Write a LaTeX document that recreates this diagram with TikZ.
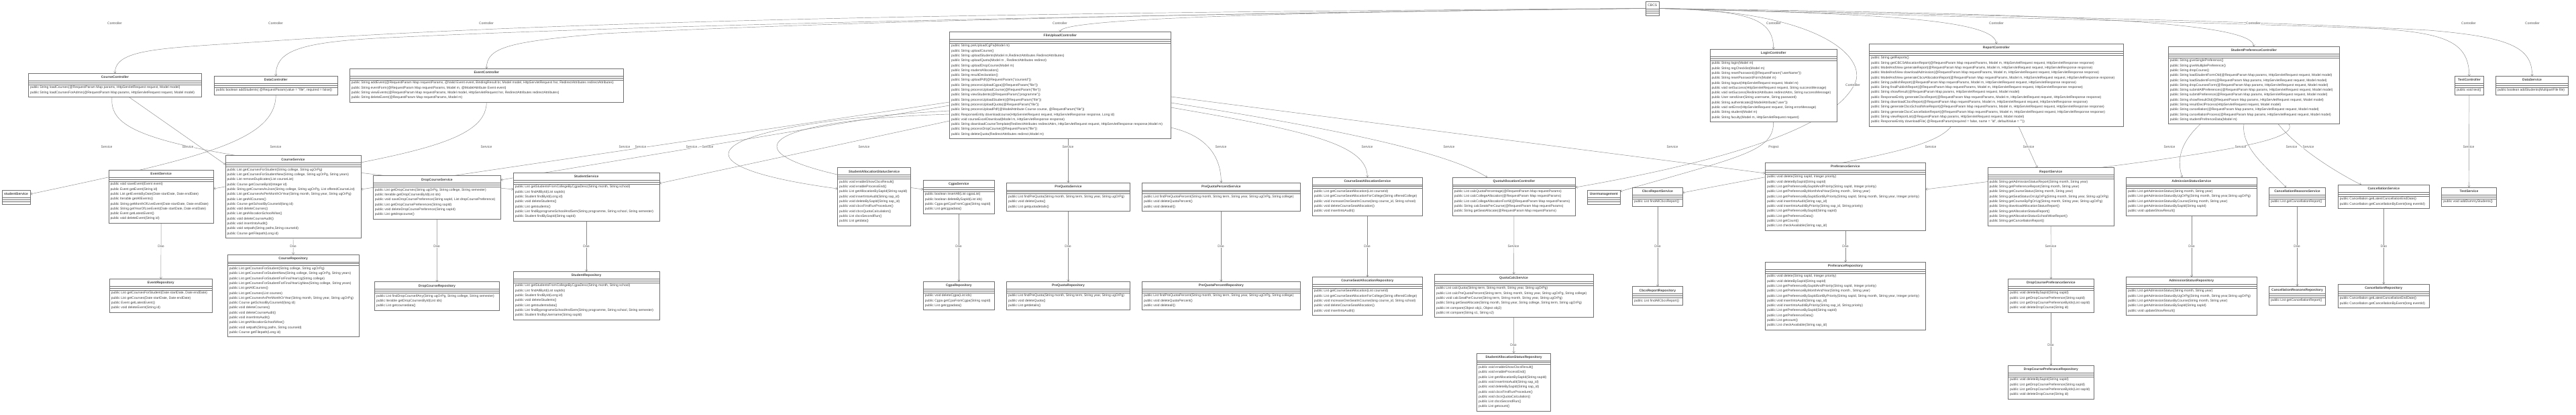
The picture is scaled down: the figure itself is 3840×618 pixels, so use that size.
\documentclass[tikz,border=0pt]{standalone}
\usepackage{fontspec}
\setmainfont{Liberation Sans}
\usetikzlibrary{arrows.meta,calc}
\pgfdeclarelayer{bg}
\pgfsetlayers{bg,main}
\definecolor{bline}{HTML}{707070}
\definecolor{tcol}{HTML}{404040}
\definecolor{ccol}{HTML}{8a8a8a}
\definecolor{lcol}{HTML}{555555}
\newcommand\ml[1]{\hbox{\hskip2.6pt\rule[-2.2pt]{0pt}{7.3pt}#1}}
\newcommand\clsinner[4]{\vbox{\hsize=#1pt\offinterlineskip
 \hbox to \hsize{\hfil\rule[-3.2pt]{0pt}{10.7pt}#2#3\hfil}%
 {\color{bline}\hrule height .45pt}\vskip2.2pt
 {\color{bline}\hrule height .45pt}\vskip2.6pt
 {\color{bline}\hrule height .45pt}\vskip0.6pt
 #4\vskip3pt}}
\newcommand\umlcls[6]{\node[clsbox] (#1) at (#2,#3) {\clsinner{#4}{\bfseries}{#5}{#6}};}
\newcommand\umlclsr[6]{\node[clsbox] (#1) at (#2,#3) {\clsinner{#4}{}{#5}{#6}};}
\tikzset{
 clsbox/.style={draw=bline, fill=white, inner sep=0pt, outer sep=0pt, line width=.45pt, anchor=north west, text=tcol, font=\fontsize{5}{7.3}\selectfont},
 conn/.style={draw=ccol, line width=.45pt, -{Straight Barb[length=2.4pt,width=3.8pt]}},
 elabel/.style={font=\fontsize{5}{6}\selectfont, text=lcol, fill=white, inner sep=.5pt}
}
\begin{document}
\begin{tikzpicture}[x=1pt,y=-1pt]
\useasboundingbox (0,0) rectangle (3840,618);
% ---------- top row ----------
\umlclsr{cbcs}{2453.5}{2.3}{19.5}{CBCS}{}
\umlcls{cc}{42.4}{109.3}{258}{CourseController}{%
\ml{public String loadCourses(@RequestParam Map params, HttpServletRequest request, Model model)}
\ml{public String loadCoursesForAdmin(@RequestParam Map params, HttpServletRequest request, Model model)}}
\umlcls{dc}{319.6}{113.3}{183.3}{DataController}{%
\ml{public boolean addStudents( @RequestParam(value = "file", required = false))}}
\umlcls{ec}{521.2}{102.3}{408.2}{EventController}{%
\ml{public String addEvent(@RequestParam Map requestParams, @Valid Event event, BindingResult br, Model model, HttpServletRequest hsr, RedirectAttributes redirectAttributes)}
\ml{public String eventForm(@RequestParam Map requestParams, Model m, @ModelAttribute Event event)}
\ml{public String viewEvents(@RequestParam Map requestParams, Model model, HttpServletRequest hsr, RedirectAttributes redirectAttributes)}
\ml{public String deleteEvent(@RequestParam Map requestParams, Model m)}}
\umlcls{fu}{1415.5}{47.3}{329.8}{FileUploadController}{%
\ml{public String preUploadCgPa(Model m)}
\ml{public String uploadCourse()}
\ml{public String uploadStudents(Model m,RedirectAttributes RedirectAttributes)}
\ml{public String uploadQuota(Model m , RedirectAttributes redirect)}
\ml{public String uploadDropCourse(Model m)}
\ml{public String studentAllocation()}
\ml{public String resultDeclaration()}
\ml{public String uploadPdf(@RequestParam("courseId"))}
\ml{public String processUploadCgpa(@RequestParam("file"))}
\ml{public String processUploadCourse(@RequestParam("file"))}
\ml{public String viewStudents(@RequestParam("programme"))}
\ml{public String processUploadStudent(@RequestParam("file"))}
\ml{public String processUploadQuota(@RequestParam("file"))}
\ml{public String processUploadPdf(@ModelAttribute Course course, @RequestParam("file"))}
\ml{public ResponseEntity downloadcourse(HttpServletRequest request, HttpServletResponse response, Long id)}
\ml{public void courseExcelDownload(Model m, HttpServletResponse response)}
\ml{public String downloadCourseTemplate(RedirectAttributes redirectAttrs, HttpServletRequest request, HttpServletResponse response,Model m)}
\ml{public String processDropCourse(@RequestParam("file"))}
\ml{public String deleteQuota(RedirectAttributes redirect,Model m)}}
\umlcls{lc}{2549}{73.3}{189.4}{LoginController}{%
\ml{public String login(Model m)}
\ml{public String regChecklist(Model m)}
\ml{public String resetPassword(@RequestParam("userName"))}
\ml{public String resetPasswordForm(Model m)}
\ml{public String logout(HttpServletRequest request, Model m)}
\ml{public void setSuccess(HttpServletRequest request, String successMessage)}
\ml{public void setSuccess(RedirectAttributes redirectAttrs, String successMessage)}
\ml{public User sendUser(String username, String password)}
\ml{public String authenticate(@ModelAttribute("user"))}
\ml{public void setError(HttpServletRequest request, String errorMessage)}
\ml{public String student(Model m)}
\ml{public String faculty(Model m, HttpServletRequest request)}}
\umlcls{rc}{2786.5}{65.3}{378.8}{ReportController}{%
\ml{public String getReports()}
\ml{public String getCBCSAllocationReport(@RequestParam Map requestParams, Model m, HttpServletRequest request, HttpServletResponse response)}
\ml{public ModelAndView generateReport(@RequestParam Map requestParams, Model m, HttpServletRequest request, HttpServletResponse response)}
\ml{public ModelAndView downloadAdmission(@RequestParam Map requestParams, Model m, HttpServletRequest request, HttpServletResponse response)}
\ml{public ModelAndView generateCbcsAllocationReport(@RequestParam Map requestParams, Model m, HttpServletRequest request, HttpServletResponse response)}
\ml{public String publishReport(@RequestParam Map requestParams, Model m, HttpServletRequest request, HttpServletResponse response)}
\ml{public String finalPublishReport(@RequestParam Map requestParams, Model m, HttpServletRequest request, HttpServletResponse response)}
\ml{public String showResult(@RequestParam Map params, HttpServletRequest request, Model model)}
\ml{public ResponseEntity generateCbcsReport(@RequestParam Map requestParams, Model m, HttpServletRequest request, HttpServletResponse response)}
\ml{public String downloadCbcsReport(@RequestParam Map requestParams, Model m, HttpServletRequest request, HttpServletResponse response)}
\ml{public String generateCbcsSchoolWiseReport(@RequestParam Map requestParams, Model m, HttpServletRequest request, HttpServletResponse response)}
\ml{public String generateCbcsCancellationReport(@RequestParam Map requestParams, Model m, HttpServletRequest request, HttpServletResponse response)}
\ml{public String viewReportList(@RequestParam Map params, HttpServletRequest request, Model model)}
\ml{public ResponseEntity downloadFile( @RequestParam(required = false, name = "id", defaultValue = ""))}}
\umlcls{spc}{3232.2}{69.3}{255.1}{StudentPreferenceController}{%
\ml{public String giveSinglePreference()}
\ml{public String giveMultiplePreference()}
\ml{public String dropCourse()}
\ml{public String loadStudentFormOld(@RequestParam Map params, HttpServletRequest request, Model model)}
\ml{public String loadStudentForm(@RequestParam Map params, HttpServletRequest request, Model model)}
\ml{public String dropCoursesForm(@RequestParam Map params, HttpServletRequest request, Model model)}
\ml{public String submitAllPreferences(@RequestParam Map params, HttpServletRequest request, Model model)}
\ml{public String submitPreference(@RequestParam Map params, HttpServletRequest request, Model model)}
\ml{public String showResultOld(@RequestParam Map params, HttpServletRequest request, Model model)}
\ml{public String resultDeclProcess(HttpServletRequest request, Model model)}
\ml{public String cancellation(@RequestParam Map params, HttpServletRequest request, Model model)}
\ml{public String cancellationProcess(@RequestParam Map params, HttpServletRequest request, Model model)}
\ml{public String studentPrefrenceData(Model m)}}
\umlcls{tc}{3659.6}{113.3}{42.4}{TestController}{%
\ml{public void test()}}
\umlcls{ds}{3720.4}{113.3}{108.2}{DataService}{%
\ml{public boolean addStudents(MultipartFile file)}}
% ---------- service row ----------
\umlcls{sts}{2.9}{283.3}{42.4}{studentService}{}
\umlcls{es}{162}{253.3}{156.4}{EventService}{%
\ml{public void saveEvent(Event event)}
\ml{public Event getEvent(String id)}
\ml{public List getEventsByDate(Date startDate, Date endDate)}
\ml{public Iterable getAllEvents()}
\ml{public String getMonthOfLiveEvent(Date startDate, Date endDate)}
\ml{public String getYearOfLiveEvent(Date startDate, Date endDate)}
\ml{public Event getLatestEvent()}
\ml{public void deleteEvent(String id)}}
\umlcls{cs}{336}{231.7}{202}{CourseService}{%
\ml{public List getCoursesForStudent(String college, String ugOrPg)}
\ml{public List getCoursesForStudentNew(String college, String ugOrPg, String years)}
\ml{public List removeDuplicates(List courseList)}
\ml{public Course getCourseById(Integer id)}
\ml{public String getCoursesAsJson(String college, String ugOrPg, List offeredCourseList)}
\ml{public List getCoursesAsPerMonthOrYear(String month, String year, String ugOrPg)}
\ml{public List getAllCourses()}
\ml{public Course getSchoolByCourseId(long id)}
\ml{public void deleteCourses()}
\ml{public List getAllocationSchoolWise()}
\ml{public void deleteCourseAudit()}
\ml{public void insertIntoAudit()}
\ml{public void setpath(String paths,String courseId)}
\ml{public Course getFilepath(Long id)}}
\umlcls{dcs}{556.3}{261.7}{190.2}{DropCourseService}{%
\ml{public List getDropCourses(String ugOrPg, String college, String semester)}
\ml{public Iterable getDropCoursesById(List ids)}
\ml{public void saveDropCoursePreference(String sapId, List dropCoursePreference)}
\ml{public List getDropCoursePreferences(String sapId)}
\ml{public void deleteDropCoursePreference(String sapId)}
\ml{public List getdropcourse()}}
\umlcls{ss}{765.3}{257.3}{217.6}{StudentService}{%
\ml{public List getStudentsFromCollegeByCgpaDesc(String month, String school)}
\ml{public List findAllById(List sapIds)}
\ml{public Student findById(Long id)}
\ml{public void deleteStudents()}
\ml{public List getstudents()}
\ml{public List findByprogrameSchoolAndSem(String programme, String school, String semester)}
\ml{public Student findBySapId(String sapId)}}
\umlcls{sass}{1248.6}{249.7}{109}{StudentAllocationStatusService}{%
\ml{public void enableShowCbcsResult()}
\ml{public void enableProcessEnd()}
\ml{public List getAllocationBySapId(String sapId)}
\ml{public void insertIntoAudit(String sap\_id)}
\ml{public void deleteBySapId(String sap\_id)}
\ml{public void cbcsFirstRunProcedure()}
\ml{public void cbcsQuotaCalculation()}
\ml{public List cbcsSecondRun()}
\ml{public List getdata()}}
\umlcls{cgs}{1376.3}{268.3}{106.1}{CgpaService}{%
\ml{public boolean insertAll(List cgpaList)}
\ml{public boolean deleteBySapId(List ids)}
\ml{public Cgpa getCpaFromCgpa(String sapId)}
\ml{public List getcgpadata()}}
\umlcls{pqs}{1500.4}{272}{184.1}{PreQuotaService}{%
\ml{public List findPreQuota(String month, String term, String year, String ugOrPg)}
\ml{public void deleteQuota()}
\ml{public List getquotadetails()}}
\umlcls{pqps}{1702.4}{272}{236}{PreQuotaPercentService}{%
\ml{public List findPreQuotaPercent(String month, String term, String year, String ugOrPg, String college)}
\ml{public void deleteQuotaPercent()}
\ml{public void deleteall()}}
\umlcls{csas}{1956.3}{264}{164.1}{CourseSeatAllocationService}{%
\ml{public List getCourseSeatAllocation(List courseId)}
\ml{public List getCourseSeatAllocationForCollege(String offeredCollege)}
\ml{public void increaseOneSeatInCourse(long course\_id, String school)}
\ml{public void deleteCourseSeatAllocation()}
\ml{public void insertIntoAudit()}}
\umlcls{qac}{2165.3}{264}{183.3}{QuotaAllocationController}{%
\ml{public List calcQuotaPercentage(@RequestParam Map requestParams)}
\ml{public List calcCollegeAllocation(@RequestParam Map requestParams)}
\ml{public List calcCollegeAllocationForAll(@RequestParam Map requestParams)}
\ml{public String calcSeatsPerCourse(@RequestParam Map requestParams)}
\ml{public String getSeatAllocate(@RequestParam Map requestParams)}}
\umlcls{um}{2366.5}{283.3}{48.6}{Usermanagement}{}
\umlcls{crs}{2433.5}{279.3}{74.7}{CbcsReportService}{%
\ml{public List findAllCbcsReport()}}
\umlcls{ps}{2631.4}{242.3}{238.8}{PreferanceService}{%
\ml{public void delete(String sapId, Integer priority)}
\ml{public void deleteBySapId(String sapId)}
\ml{public List getPreferenceBySapIdAndPriority(String sapId, Integer priority)}
\ml{public List getPreferenceByMonthAndYear(String month , String year)}
\ml{public List getPreferenceBySapIdSortByPriority(String sapId, String month, String year, Integer priority)}
\ml{public void insertIntoAudit(String sap\_id)}
\ml{public void insertIntoAuditByPriority(String sap\_id, String priority)}
\ml{public List getPreferenceBySapId(String sapId)}
\ml{public List getPreferenceData()}
\ml{public List getCount()}
\ml{public List checkAvailable(String sap\_id)}}
\umlcls{rs}{2962.9}{249.7}{188.5}{ReportService}{%
\ml{public String getAdmissionStatusReport(String month, String year)}
\ml{public String getPreferenceReport(String month, String year)}
\ml{public String getCourseStatus(String month, String year)}
\ml{public String getSeatStatusOnUgOrPg(String month, String year, String ugOrPg)}
\ml{public String getCourseByPgOrUg(String month, String year, String ugOrPg)}
\ml{public String downloadAllocationStatusReport()}
\ml{public String getAllocationStatusReport()}
\ml{public String getAllocationStatusSchoolWiseReport()}
\ml{public String getCancellationReport()}}
\umlcls{ass}{3169.4}{264}{194.7}{AdmissionStatusService}{%
\ml{public List getAdmissionStatus(String month, String year)}
\ml{public List getAdmissionStatusByUgOrPg(String month, String year,String ugOrPg)}
\ml{public List getAdmissionStatusByCourse(String month, String year)}
\ml{public List getAdmissionStatusBySapId(String sapId)}
\ml{public void updateShowResult()}}
\umlcls{crss}{3382.4}{279.3}{84.1}{CancellationReasonsService}{%
\ml{public List getCancellationReport()}}
\umlcls{cans}{3485.3}{275.3}{135.9}{CancellationService}{%
\ml{public Cancellation getLatestCancellationEndDate()}
\ml{public Cancellation getCancellationByEvent(long eventId)}}
\umlcls{tsv}{3639.6}{279.3}{81.6}{TestService}{%
\ml{public void addDummyStudents()}}
% ---------- repository row ----------
\umlcls{er}{163.3}{415.3}{153}{EventRepository}{%
\ml{public List getCoursesForStudent(Date startDate, Date endDate)}
\ml{public List getCourses(Date startDate, Date endDate)}
\ml{public Event getLatestEvent()}
\ml{public void deleteEvent(String id)}}
\umlcls{cr}{339.2}{379}{195.9}{CourseRepository}{%
\ml{public List getCoursesForStudent(String college, String ugOrPg)}
\ml{public List getCoursesForStudentNew(String college, String ugOrPg, String years)}
\ml{public List getCoursesForStudentForFinalYearUg(String college)}
\ml{public List getCoursesForStudentForFinalYearUgNew(String college, String years)}
\ml{public List getAllCourses()}
\ml{public List getCourses(List courses)}
\ml{public List getCoursesAsPerMonthOrYear(String month, String year, String ugOrPg)}
\ml{public Course getSchoolByCourseId(long id)}
\ml{public void deleteCourses()}
\ml{public void deleteCourseAudit()}
\ml{public void insertIntoAudit()}
\ml{public List getAllocationSchoolWise()}
\ml{public void setpath(String paths, String courseId)}
\ml{public Course getFilepath(Long id)}}
\umlcls{dcr}{558.4}{419.7}{186.1}{DropCourseRepository}{%
\ml{public List findDropCourseIfAny(String ugOrPg, String college, String semester)}
\ml{public Iterable getDropCoursesById(List ids)}
\ml{public List getcoursedata()}}
\umlcls{sr}{765.3}{404.3}{217.6}{StudentRepository}{%
\ml{public List getStudentsFromCollegeByCgpaDesc(String month, String school)}
\ml{public List findAllById(List sapIds)}
\ml{public Student findById(Long id)}
\ml{public void deleteStudents()}
\ml{public List getstudentsdata()}
\ml{public List findByprogrameSchoolAndSem(String programme, String school, String semester)}
\ml{public Student findbyUsername(String sapId)}}
\umlcls{cgr}{1376.3}{419.3}{106.1}{CgpaRepository}{%
\ml{public void deleteCgpa(List ids)}
\ml{public Cgpa getCpaFromCgpa(String sapId)}
\ml{public List getcgpadata()}}
\umlcls{pqr}{1500.4}{419.3}{184.1}{PreQuotaRepository}{%
\ml{public List findPreQuota(String month, String term, String year, String ugOrPg)}
\ml{public void deleteQuota()}
\ml{public List getdetails()}}
\umlcls{pqpr}{1702.4}{419.3}{236}{PreQuotaPercentRepository}{%
\ml{public List findPreQuotaPercent(String month, String term, String year, String ugOrPg, String college)}
\ml{public void deleteQuotaPercent()}
\ml{public void deleteall()}}
\umlcls{csar}{1956.3}{412.3}{164.1}{CourseSeatAllocationRepository}{%
\ml{public List getCourseSeatAllocation(List courseId)}
\ml{public List getCourseSeatAllocationForCollege(String offeredCollege)}
\ml{public void increaseOneSeatInCourse(long course\_id, String school)}
\ml{public void deleteCourseSeatAllocation()}
\ml{public void insertIntoAudit()}}
\umlcls{qcs}{2138.4}{408.3}{236.3}{QuotaCalcService}{%
\ml{public List calcQuota(String term, String month, String year, String ugOrPg)}
\ml{public List calcPreQuotaPercent(String term, String month, String year, String ugOrPg, String college)}
\ml{public void calcSeatPerCourse(String term, String month, String year, String ugOrPg)}
\ml{public String getSeatAllocate(String month, String year, String college, String term, String ugOrPg)}
\ml{public int compare(Object obj1, Object obj2)}
\ml{public int compare(String s1, String s2)}}
\umlcls{crr}{2433.5}{426.7}{74.7}{CbcsReportRepository}{%
\ml{public List findAllCbcsReport()}}
\umlcls{pr}{2631.4}{390.3}{238.8}{PreferanceRepository}{%
\ml{public void delete(String sapId, Integer priority)}
\ml{public void deleteBySapId(String sapId)}
\ml{public List getPreferenceBySapIdAndPriority(String sapId, Integer priority)}
\ml{public List getPreferenceByMonthAndYear(String month , String year)}
\ml{public List getPreferenceBySapIdSortByPriority(String sapId, String month, String year, Integer priority)}
\ml{public void insertIntoAudit(String sap\_id)}
\ml{public void insertIntoAuditByPriority(String sap\_id, String priority)}
\ml{public List getPreferenceBySapId(String sapId)}
\ml{public List getPreferenceData()}
\ml{public List getcount()}
\ml{public List checkAvailable(String sap\_id)}}
\umlcls{dcps}{2993.5}{415.3}{127.7}{DropCoursePreferanceService}{%
\ml{public void deleteBySapId(String sapId)}
\ml{public List getDropCoursePreference(String sapId)}
\ml{public List getDropCoursePreferenceByIds(List sapId)}
\ml{public void deleteDropCourse(String id)}}
\umlcls{asr}{3169.4}{412.3}{194.7}{AdmissionStatusRepository}{%
\ml{public List getAdmissionStatus(String month, String year)}
\ml{public List getAdmissionStatusByUgOrPg(String month, String year,String ugOrPg)}
\ml{public List getAdmissionStatusByCourse(String month, String year)}
\ml{public List getAdmissionStatusBySapId(String sapId)}
\ml{public void updateShowResult()}}
\umlcls{crsr}{3382.4}{426.3}{84.1}{CancellationReasonsRepository}{%
\ml{public List getCancellationReport()}}
\umlcls{canr}{3485.3}{423.3}{135.9}{CancellationRepository}{%
\ml{public Cancellation getLatestCancellationEndDate()}
\ml{public Cancellation getCancellationByEvent(long eventId)}}
% ---------- bottom row ----------
\umlcls{sasr}{2201.6}{526}{109.8}{StudentAllocationStatusRepository}{%
\ml{public void enableShowCbcsResult()}
\ml{public void enableProcessEnd()}
\ml{public List getAllocationBySapId(String sapId)}
\ml{public void insertIntoAudit(String sap\_id)}
\ml{public void deleteBySapId(String sap\_id)}
\ml{public void cbcsFirstRunProcedure()}
\ml{public void cbcsQuotaCalculation()}
\ml{public List cbcsSecondRun()}
\ml{public List getcount()}}
\umlcls{dcpr}{2993.5}{544.3}{127.7}{DropCoursePreferanceRepository}{%
\ml{public void deleteBySapId(String sapId)}
\ml{public List getDropCoursePreference(String sapId)}
\ml{public List getDropCoursePreferenceByIds(List sapId)}
\ml{public void deleteDropCourse(String id)}}
% ---------- connectors ----------
\begin{pgfonlayer}{bg}
\fill[white] (0,0) rectangle (3840,618);
% CBCS -> controllers
\draw[conn] (cbcs.west) .. controls (1600,18) and (900,28) .. (420,60) .. controls (250,72) and (171,70) .. (cc.north);
\draw[conn] (cbcs.west) .. controls (1800,20) and (1000,35) .. (560,57) .. controls (440,64) and (411,78) .. (dc.north);
\draw[conn] (cbcs.west) .. controls (1900,18) and (1300,30) .. (900,50) .. controls (760,62) and (725,70) .. (ec.north);
\draw[conn] (cbcs.west) .. controls (1900,18) and (1580,28) .. (fu.north);
\draw[conn] (cbcs.east) .. controls (2600,16) and (2644,25) .. (lc.north);
\draw[conn] (cbcs.east) .. controls (2750,20) and (2975,25) .. (rc.north);
\draw[conn] (cbcs.east) .. controls (3000,20) and (3359,28) .. (spc.north);
\draw[conn] (cbcs.east) .. controls (2900,25) and (3300,33) .. (3550,43) .. controls (3650,50) and (3680,65) .. (tc.north);
\draw[conn] (cbcs.east) .. controls (2900,22) and (3350,30) .. (3620,45) .. controls (3740,55) and (3775,70) .. (ds.north);
\draw[conn] (cbcs.east) .. controls (2720,15) and (2790,90) .. (2762,130) .. controls (2735,175) and (2640,228) .. (qac.east |- 0,279);
% controllers -> services
\draw[conn] (cc.south -| 192,0) -- (cs.west |- 0,245);
\draw[conn] (cc.south -| 167,0) .. controls (162,200) and (230,228) .. (ss.west |- 0,282);
\draw[conn] (dc.south) .. controls (411,210) and (300,235) .. (sts.east |- 0,289);
\draw[conn] (ec.south) .. controls (725,215) and (600,232) .. (es.east |- 0,281);
\draw[conn] (fu.west |- 0,152) -- (cs.east |- 0,282);
\draw[conn] (fu.west |- 0,157) -- (dcs.east |- 0,268);
\draw[conn] (fu.west |- 0,180) -- (ss.east |- 0,273);
\draw[conn] (fu.west |- 0,165) .. controls (1050,185) and (980,245) .. (sass.west |- 0,281);
\draw[conn] (fu.west |- 0,170) .. controls (1100,180) and (1060,240) .. (cgs.west |- 0,282);
\draw[conn] (fu.south -| pqs.north) -- (pqs.north);
\draw[conn] (fu.east |- 0,190) .. controls (1790,200) and (1820,225) .. (pqps.north);
\draw[conn] (fu.east |- 0,160) .. controls (1950,195) and (2038,215) .. (csas.north);
\draw[conn] (fu.east |- 0,153) .. controls (1950,185) and (2150,222) .. (qac.north -| 2217,0);
\draw[conn] (fu.east |- 0,144) -- (ps.west |- 0,258);
\draw[conn] (lc.south) .. controls (2644,225) and (2600,232) .. (um.east |- 0,285);
\draw[conn] (rc.south -| 2909,0) .. controls (2880,225) and (2760,238) .. (crs.east |- 0,287);
\draw[conn] (rc.south -| 3009,0) -- (rs.north -| 3037,0);
\draw[conn] (spc.south -| 3280,0) .. controls (3248,215) and (3245,240) .. (ass.north -| 3253,0);
\draw[conn] (spc.south -| 3345,0) .. controls (3340,220) and (3380,250) .. (crss.north -| 3408,0);
\draw[conn] (spc.south -| 3396,0) .. controls (3420,215) and (3470,250) .. (cans.north -| 3520,0);
\draw[conn] (spc.south -| 3412,0) .. controls (3430,215) and (3250,235) .. (ps.east |- 0,282);
\draw[conn] (tc.south) -- (tsv.north);
\draw[conn] (qac.south) -- (qcs.north);
\draw[conn] (rs.south) -- (dcps.north);
% services -> repositories
\draw[conn] (es.south) -- (er.north);
\draw[conn] (cs.south) -- (cr.north);
\draw[conn] (dcs.south) -- (dcr.north);
\draw[conn] (ss.south) -- (sr.north);
\draw[conn] (cgs.south) -- (cgr.north);
\draw[conn] (pqs.south) -- (pqr.north);
\draw[conn] (pqps.south) -- (pqpr.north);
\draw[conn] (csas.south) -- (csar.north);
\draw[conn] (crs.south) -- (crr.north);
\draw[conn] (ps.south) -- (pr.north);
\draw[conn] (ass.south) -- (asr.north);
\draw[conn] (crss.south) -- (crsr.north);
\draw[conn] (cans.south) -- (canr.north);
\draw[conn] (qcs.south) -- (sasr.north);
\draw[conn] (dcps.south) -- (dcpr.north);
\end{pgfonlayer}
% ---------- labels ----------
\foreach \x [count=\i] in {171,411,725,1580,2644,2976,3359,3680,3775}
  \node[elabel] (lctl\i) at (\x,35) {Controller};
\node[elabel] (lctlq) at (2762,127) {Controller};
\foreach \x [count=\i] in {159,280,411,725,931,955,1031,1055,1288,1592,1820,2038,2160,2493,2878,3024,3234,3340,3416,3441,3680}
  \node[elabel] (lsvc\i) at (\x,219) {Service};
\node[elabel] (lproj) at (2644,219) {Project};
\foreach \x [count=\i] in {240,437,651,874,1429,1592,1820,2038,2471,2751,3267,3424,3553.5}
  \node[elabel] (ldao\i) at (\x,367) {Dao};
\node[elabel] (lsvcq) at (2256,367) {Service};
\node[elabel] (lsvcr) at (3057,367) {Service};
\node[elabel] (ldaoq) at (2256,514) {Dao};
\node[elabel] (ldaor) at (3057,514) {Dao};
\end{tikzpicture}
\end{document}
